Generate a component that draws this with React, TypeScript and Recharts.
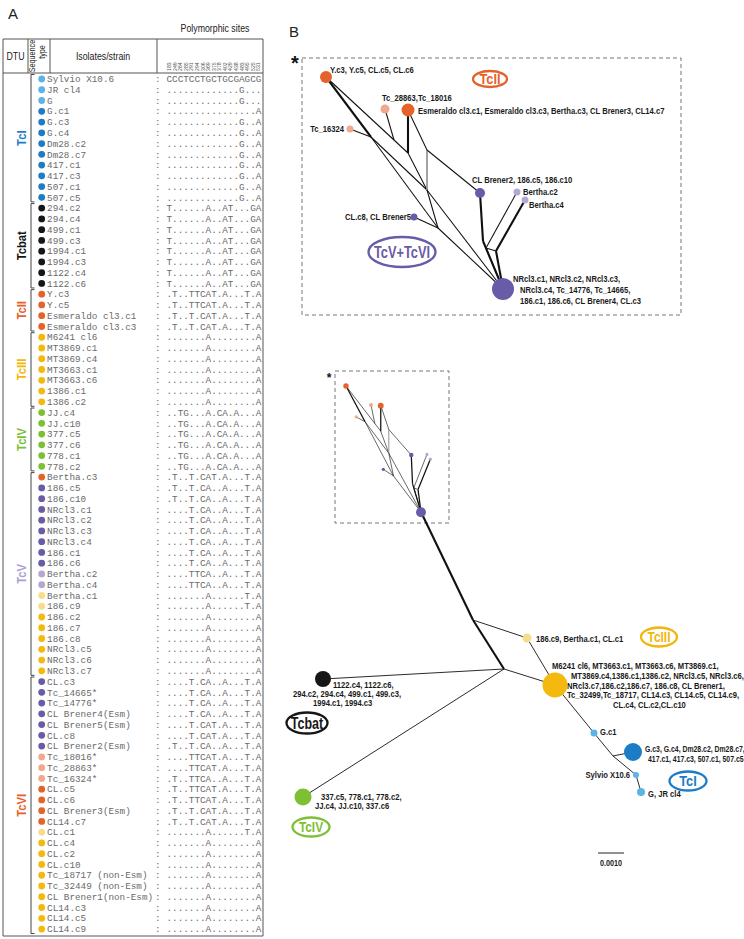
import React from "react";
import { ScatterChart, Scatter, XAxis, YAxis, ReferenceLine, ReferenceArea } from "recharts";

const W = 744;
const H = 939;

// haplotype colours used for dots and nodes
const HAP_COLORS: Record<string, string> = {
  lb: "#5cb3e6",
  b: "#1c7cc5",
  k: "#161616",
  o: "#e5622b",
  y: "#f3b90f",
  g: "#7dc034",
  p: "#685ba7",
  lp: "#b3a7d6",
  ly: "#f6dd8e",
  lo: "#f0a98c",
};

const DTU_COLORS: Record<string, string> = {
  TcI: "#1c7cc5",
  Tcbat: "#161616",
  TcII: "#e5622b",
  TcIII: "#f1b70c",
  TcIV: "#7dc034",
  TcV: "#a89ed2",
  TcVI: "#e5622b",
  "TcV+TcVI": "#685ba7",
};

// polymorphic sites (alignment positions)
const SITES = ["183", "249", "264", "285", "291", "294", "306", "369", "375", "378", "402", "429", "438", "483", "495", "525", "531"];

const SEQ = {
  ref: "CCCTCCTGCTGCGAGCG",
  i1: ".............G...",
  i2: "................A",
  i3: ".............G..A",
  bat: "T......A..AT...GA",
  ii1: ".T..TTCAT.A...T.A",
  ii2: ".T..T.CAT.A...T.A",
  iii: ".......A........A",
  iv: "..TG...A.CA.A...A",
  v1: ".T..T.CA..A...T.A",
  v2: "....T.CA..A...T.A",
  v3: "....TTCA..A...T.A",
  v4: ".......A......T.A",
  vi1: "....T.CAT.A...T.A",
  vi2: "....TTCAT.A...T.A",
  vi3: ".T..TTCA..A...T.A",
};

// [isolate/strain, haplotype colour, sequence]
const ROWS: [string, string, keyof typeof SEQ][] = [
  ["Sylvio X10.6", "lb", "ref"],
  ["JR cl4", "lb", "i1"],
  ["G", "lb", "i1"],
  ["G.c1", "b", "i2"],
  ["G.c3", "b", "i3"],
  ["G.c4", "b", "i3"],
  ["Dm28.c2", "b", "i3"],
  ["Dm28.c7", "b", "i3"],
  ["417.c1", "b", "i3"],
  ["417.c3", "b", "i3"],
  ["507.c1", "b", "i3"],
  ["507.c5", "b", "i3"],
  ["294.c2", "k", "bat"],
  ["294.c4", "k", "bat"],
  ["499.c1", "k", "bat"],
  ["499.c3", "k", "bat"],
  ["1994.c1", "k", "bat"],
  ["1994.c3", "k", "bat"],
  ["1122.c4", "k", "bat"],
  ["1122.c6", "k", "bat"],
  ["Y.c3", "o", "ii1"],
  ["Y.c5", "o", "ii1"],
  ["Esmeraldo cl3.c1", "o", "ii2"],
  ["Esmeraldo cl3.c3", "o", "ii2"],
  ["M6241 cl6", "y", "iii"],
  ["MT3869.c1", "y", "iii"],
  ["MT3869.c4", "y", "iii"],
  ["MT3663.c1", "y", "iii"],
  ["MT3663.c6", "y", "iii"],
  ["1386.c1", "y", "iii"],
  ["1386.c2", "y", "iii"],
  ["JJ.c4", "g", "iv"],
  ["JJ.c10", "g", "iv"],
  ["377.c5", "g", "iv"],
  ["377.c6", "g", "iv"],
  ["778.c1", "g", "iv"],
  ["778.c2", "g", "iv"],
  ["Bertha.c3", "o", "ii2"],
  ["186.c5", "p", "v1"],
  ["186.c10", "p", "v1"],
  ["NRcl3.c1", "p", "v2"],
  ["NRcl3.c2", "p", "v2"],
  ["NRcl3.c3", "p", "v2"],
  ["NRcl3.c4", "p", "v2"],
  ["186.c1", "p", "v2"],
  ["186.c6", "p", "v2"],
  ["Bertha.c2", "lp", "v3"],
  ["Bertha.c4", "lp", "v3"],
  ["Bertha.c1", "ly", "v4"],
  ["186.c9", "ly", "v4"],
  ["186.c2", "y", "iii"],
  ["186.c7", "y", "iii"],
  ["186.c8", "y", "iii"],
  ["NRcl3.c5", "y", "iii"],
  ["NRcl3.c6", "y", "iii"],
  ["NRcl3.c7", "y", "iii"],
  ["CL.c3", "p", "v2"],
  ["Tc_14665*", "p", "v2"],
  ["Tc_14776*", "p", "v2"],
  ["CL Brener4(Esm)", "p", "v2"],
  ["CL Brener5(Esm)", "p", "vi1"],
  ["CL.c8", "p", "vi1"],
  ["CL Brener2(Esm)", "p", "v1"],
  ["Tc_18016*", "lo", "vi2"],
  ["Tc_28863*", "lo", "vi2"],
  ["Tc_16324*", "lo", "vi3"],
  ["CL.c5", "o", "ii1"],
  ["CL.c6", "o", "ii1"],
  ["CL Brener3(Esm)", "o", "ii2"],
  ["CL14.c7", "o", "ii2"],
  ["CL.c1", "ly", "v4"],
  ["CL.c4", "y", "iii"],
  ["CL.c2", "y", "iii"],
  ["CL.c10", "y", "iii"],
  ["Tc_18717 (non-Esm)", "y", "iii"],
  ["Tc_32449 (non-Esm)", "y", "iii"],
  ["CL Brener1(non-Esm)", "y", "iii"],
  ["CL14.c3", "y", "iii"],
  ["CL14.c5", "y", "iii"],
  ["CL14.c9", "y", "iii"],
];

// [DTU, first row, last row]
const DTUS: [string, number, number][] = [
  ["TcI", 0, 11],
  ["Tcbat", 12, 19],
  ["TcII", 20, 23],
  ["TcIII", 24, 30],
  ["TcIV", 31, 36],
  ["TcV", 37, 55],
  ["TcVI", 56, 79],
];

// haplotype network, magnified part (TcII / TcV / TcVI)
const NET_NODES = [
  { id: "YC3", hap: "o", isolates: ["Y.c3, Y.c5, CL.c5, CL.c6"] },
  { id: "T28", hap: "lo", isolates: ["Tc_28863,Tc_18016"] },
  { id: "ESM", hap: "o", isolates: ["Esmeraldo cl3.c1, Esmeraldo cl3.c3, Bertha.c3, CL Brener3, CL14.c7"] },
  { id: "T163", hap: "lo", isolates: ["Tc_16324"] },
  { id: "CLB2", hap: "p", isolates: ["CL Brener2, 186.c5, 186.c10"] },
  { id: "BC2", hap: "lp", isolates: ["Bertha.c2"] },
  { id: "BC4", hap: "lp", isolates: ["Bertha.c4"] },
  { id: "CL8", hap: "p", isolates: ["CL.c8, CL Brener5"] },
  {
    id: "NR",
    hap: "p",
    isolates: ["NRcl3.c1, NRcl3.c2, NRcl3.c3,", "NRcl3.c4, Tc_14776, Tc_14665,", "186.c1, 186.c6, CL Brener4, CL.c3"],
  },
];

const NET_EDGES: [string, string, string][] = [
  ["YC3", "J2", "t"],
  ["YC3", "J3", "n"],
  ["J3", "J4", "n"],
  ["T28", "J3", "n"],
  ["T163", "J2", "n"],
  ["ESM", "J4", "t"],
  ["ESM", "J5", "n"],
  ["J2", "J6", "n"],
  ["J2", "J7", "n"],
  ["J4", "J6", "n"],
  ["J5", "J6", "g"],
  ["J5", "CLB2", "n"],
  ["J6", "J7", "n"],
  ["J6", "NR", "n"],
  ["CL8", "J7", "n"],
  ["J7", "NR", "n"],
  ["CLB2", "J8", "t"],
  ["J8", "NR", "t"],
  ["BC2", "J9", "n"],
  ["BC4", "J10", "t"],
  ["J9", "J10", "n"],
  ["J9", "NR", "n"],
  ["J10", "NR", "t"],
];

// whole network (TcI, TcIII, TcIV, Tcbat)
const MAIN_NODES = [
  { id: "Y9", hap: "ly", isolates: ["186.c9, Bertha.c1, CL.c1"] },
  {
    id: "YEL",
    hap: "y",
    isolates: [
      "M6241 cl6, MT3663.c1, MT3663.c6, MT3869.c1,",
      "MT3869.c4,1386.c1,1386.c2, NRcl3.c5, NRcl3.c6,",
      "NRcl3.c7,186.c2,186.c7, 186.c8, CL Brener1,",
      "Tc_32499,Tc_18717, CL14.c3, CL14.c5, CL14.c9,",
      "CL.c4, CL.c2,CL.c10",
    ],
  },
  { id: "BLK", hap: "k", isolates: ["1122.c4, 1122.c6,", "294.c2, 294.c4, 499.c1, 499.c3,", "1994.c1, 1994.c3"] },
  { id: "GRN", hap: "g", isolates: ["337.c5, 778.c1, 778.c2,", "JJ.c4, JJ.c10, 337.c6"] },
  { id: "GC1", hap: "lb", isolates: ["G.c1"] },
  { id: "GBL", hap: "b", isolates: ["G.c3, G.c4, Dm28.c2, Dm28.c7,", "417.c1, 417.c3, 507.c1, 507.c5"] },
  { id: "SYL", hap: "lb", isolates: ["Sylvio X10.6"] },
  { id: "GJR", hap: "lb", isolates: ["G, JR cl4"] },
];

const MAIN_EDGES: [string, string, string][] = [
  ["ROOT", "JA", "t"],
  ["JA", "JB", "t"],
  ["JA", "Y9", "n"],
  ["Y9", "YEL", "n"],
  ["JB", "YEL", "n"],
  ["JB", "BLK", "n"],
  ["JB", "GRN", "n"],
  ["YEL", "GC1", "n"],
  ["GC1", "JT", "n"],
  ["JT", "GBL", "n"],
  ["JT", "SYL", "n"],
  ["SYL", "GJR", "n"],
];

// ---- layout (drawing units = page pixels) ----
const NET_POS: Record<string, [number, number]> = {
  YC3: [326, 77], T28: [385, 109], ESM: [408, 110], T163: [350, 129], CLB2: [480, 193],
  BC2: [517, 192], BC4: [525, 200], CL8: [414, 217], NR: [503, 289],
  J2: [371, 137], J3: [394, 140], J4: [408, 153], J5: [427, 150], J6: [427, 190],
  J7: [438, 228], J8: [483, 241], J9: [486, 248], J10: [496, 251],
};
const NET_R: Record<string, number> = { YC3: 6, T28: 4.5, ESM: 6.5, T163: 3.5, CLB2: 5, BC2: 3.5, BC4: 3.5, CL8: 3.5, NR: 11 };
const NET_LABEL: Record<string, { a: string; d: [number, number][]; sx?: number }> = {
  YC3: { a: "start", d: [[4, -4]] },
  T28: { a: "start", d: [[-3, -8]] },
  ESM: { a: "start", d: [[10, 3.5]] },
  T163: { a: "end", d: [[-6, 2.5]] },
  CLB2: { a: "start", d: [[-8, -10]] },
  BC2: { a: "start", d: [[6, 3]] },
  BC4: { a: "start", d: [[4, 8]] },
  CL8: { a: "end", d: [[-3, 2.5]] },
  NR: { a: "start", d: [[10, -7], [17, 4], [17, 15]] },
};

const MAIN_POS: Record<string, [number, number]> = {
  ROOT: [421, 512], JA: [473, 620], JB: [504, 669], Y9: [527, 638], YEL: [555, 685],
  BLK: [323, 679], GRN: [303, 797], GC1: [594, 733], JT: [613, 756], GBL: [633, 752],
  SYL: [636, 775], GJR: [641, 792],
};
const MAIN_R: Record<string, number> = { Y9: 4.5, YEL: 12.5, BLK: 8, GRN: 8.5, GC1: 3.5, GBL: 9, SYL: 3, GJR: 4 };
const MAIN_LABEL: Record<string, { a: string; d: [number, number][]; sx?: number }> = {
  Y9: { a: "start", d: [[9, 4]] },
  YEL: { a: "start", d: [[-3, -16], [16, -6], [12, 4], [12, 13], [58, 23]] },
  BLK: { a: "start", d: [[10, 9], [-30, 18], [-10, 27]] },
  GRN: { a: "start", d: [[18, 3], [12, 12]] },
  GC1: { a: "start", d: [[6, 2]] },
  GBL: { a: "start", d: [[12, 0], [15, 10]], sx: 0.74 },
  SYL: { a: "end", d: [[-6, 3]] },
  GJR: { a: "start", d: [[7, 5]] },
};

// [label, cx, cy, width, height, font size, x-squeeze]
const OVALS: [string, number, number, number, number, number, number][] = [
  ["TcII", 490, 79, 34, 16, 15, 0.85],
  ["TcV+TcVI", 402, 252, 67, 30, 16, 0.8],
  ["TcIII", 659, 637, 36, 19, 14, 0.85],
  ["Tcbat", 307, 723, 41, 21, 16, 0.78],
  ["TcIV", 311, 827, 37, 19, 14, 0.85],
  ["TcI", 688, 781, 37, 19, 15, 0.85],
];

const NOTES = [
  { x: 8, y: 19, text: "A", kind: "panel" },
  { x: 289, y: 37, text: "B", kind: "panel" },
  { x: 215, y: 32, text: "Polymorphic sites", kind: "head" },
  { x: 15.5, y: 60, text: "DTU", kind: "head" },
  { x: 103, y: 60, text: "Isolates/strain", kind: "head" },
  { x: 35, y: 56, text: "Sequence", kind: "vhead" },
  { x: 44.5, y: 52, text: "type", kind: "vhead" },
  { x: 295, y: 70, text: "*", kind: "star" },
  { x: 329, y: 382, text: "*", kind: "starS" },
  { x: 611, y: 866, text: "0.0010", kind: "scale" },
];

const ROW0 = 79;
const ROW_H = 10.76;
const DOT_X = 41.7;
const COLON_X = 155;
const SEQ_X = 166.5;
const CH_W = 5.58;
const DTU_X = 26;
const BR_X = 31;

// inset (small dashed box) = magnified network scaled down
const INSET = { net: [326, 77], px: [346, 386], k: [2.36, 1.68], r: 0.45 };
const insetX0 = INSET.net[0] - INSET.px[0] * INSET.k[0];
const insetY0 = INSET.net[1] - INSET.px[1] * INSET.k[1];

const SANS = "'Liberation Sans', Arial, Helvetica, sans-serif";
const MONO: React.CSSProperties = { fontFamily: "'Liberation Mono', 'Courier New', monospace", fontSize: 9.3, fill: "#6a6a6a" };

function Narrow({ x, y, text, size = 9.3, anchor = "start", color = "#1a1a1a", sx = 0.82, weight = 700, rot = 0 }: any) {
  return (
    <text
      transform={`translate(${x},${y}) rotate(${rot}) scale(${sx},1)`}
      fontFamily={SANS}
      fontSize={size}
      fontWeight={weight}
      textAnchor={anchor}
      fill={color}
    >
      {text}
    </text>
  );
}

const noShape = () => <g />;

const renderRow = (p: any) => {
  const { cx, cy, payload } = p;
  return (
    <g>
      <circle cx={cx} cy={cy} r={3.4} fill={HAP_COLORS[payload.hap]} />
      <text x={cx + 5.4} y={cy + 3.2} style={MONO}>{payload.name}</text>
      <text x={COLON_X} y={cy + 3.2} style={MONO}>:</text>
      <text x={SEQ_X} y={cy + 3.2} style={MONO}>{payload.seq}</text>
    </g>
  );
};

const renderDtu = (p: any) => {
  const { cx, cy, payload } = p;
  return <Narrow x={cx} y={cy} text={payload.name} size={12.5} sx={0.9} anchor="middle" rot={-90} color={DTU_COLORS[payload.name]} />;
};

const renderNode = (radii: Record<string, number>, labels: Record<string, { a: string; d: [number, number][]; sx?: number }> | null, scale = 1) => (p: any) => {
  const { cx, cy, payload } = p;
  const lab = labels ? labels[payload.id] : null;
  return (
    <g>
      {lab &&
        payload.isolates.map((t: string, i: number) => (
          <Narrow key={i} x={cx + lab.d[i][0]} y={cy + lab.d[i][1]} text={t} anchor={lab.a} sx={lab.sx ?? 0.82} />
        ))}
      <circle cx={cx} cy={cy} r={Math.max(1.6, radii[payload.id] * scale)} fill={HAP_COLORS[payload.hap]} />
    </g>
  );
};

const renderOval = (p: any) => {
  const { cx, cy, payload } = p;
  const c = DTU_COLORS[payload.name];
  return (
    <g>
      <ellipse cx={cx} cy={cy} rx={payload.w / 2} ry={payload.h / 2} fill="none" stroke={c} strokeWidth={2.3} />
      <Narrow x={cx} y={cy + payload.fs * 0.36} text={payload.name} size={payload.fs} sx={payload.sx} anchor="middle" color={c} />
    </g>
  );
};

const renderNote = (p: any) => {
  const { cx, cy, payload } = p;
  switch (payload.kind) {
    case "panel":
      return <text x={cx} y={cy} fontFamily={SANS} fontSize={15} fill="#222">{payload.text}</text>;
    case "head":
      return <Narrow x={cx} y={cy} text={payload.text} size={11} sx={0.8} weight={400} anchor="middle" color="#222" />;
    case "vhead":
      return <Narrow x={cx} y={cy} text={payload.text} size={9} sx={0.8} weight={400} anchor="middle" rot={-90} color="#222" />;
    case "star":
      return <text x={cx} y={cy} fontFamily={SANS} fontSize={20} fontWeight={700} textAnchor="middle" fill="#111">*</text>;
    case "starS":
      return <text x={cx} y={cy} fontFamily={SANS} fontSize={12} fontWeight={700} textAnchor="middle" fill="#111">*</text>;
    case "scale":
      return <Narrow x={cx} y={cy} text={payload.text} size={8.5} sx={0.85} anchor="middle" color="#222" />;
    default:
      return <g />;
  }
};

const renderSite = (p: any) => {
  const { cx, cy, payload } = p;
  return (
    <text transform={`translate(${cx + 1.8},${cy}) rotate(-90)`} fontFamily={SANS} fontSize={5.2} fill="#555">
      {payload.text}
    </text>
  );
};

function edgeStyle(kind: string, s: number) {
  if (kind === "t") return { stroke: "#111", strokeWidth: 2.1 * s };
  if (kind === "g") return { stroke: "#8c8c8c", strokeWidth: 1.6 * s };
  return { stroke: "#111", strokeWidth: 1.05 * s };
}

export default function App() {
  const rowData = ROWS.map(([name, hap, seq], i) => ({ x: DOT_X, y: i, name, hap, seq: SEQ[seq] }));
  const dtuData = DTUS.map(([name, a, b]) => ({ x: DTU_X, y: (a + b) / 2, name }));
  const siteData = SITES.map((text, k) => ({ x: SEQ_X + (k + 0.5) * CH_W, y: 71, text }));
  const netData = NET_NODES.map((n) => ({ ...n, x: NET_POS[n.id][0], y: NET_POS[n.id][1] }));
  const mainData = MAIN_NODES.map((n) => ({ ...n, x: MAIN_POS[n.id][0], y: MAIN_POS[n.id][1] }));
  const ovalData = OVALS.map(([name, x, y, w, h, fs, sx]) => ({ name, x, y, w, h, fs, sx }));
  const pt = (q: [number, number]) => ({ x: q[0], y: q[1] });

  return (
    <div style={{ position: "absolute", left: 0, top: 0, width: W, height: H, background: "#fff" }}>
      <ScatterChart width={W} height={H} margin={{ top: 0, right: 0, bottom: 0, left: 0 }}>
        <XAxis xAxisId="px" type="number" dataKey="x" domain={[0, W]} hide allowDataOverflow />
        <YAxis yAxisId="px" type="number" dataKey="y" domain={[0, H]} reversed hide allowDataOverflow />
        <XAxis xAxisId="inset" type="number" dataKey="x" domain={[insetX0, insetX0 + W * INSET.k[0]]} hide allowDataOverflow />
        <YAxis yAxisId="inset" type="number" dataKey="y" domain={[insetY0, insetY0 + H * INSET.k[1]]} reversed hide allowDataOverflow />
        <YAxis yAxisId="row" type="number" dataKey="y" domain={[-ROW0 / ROW_H, (H - ROW0) / ROW_H]} reversed hide allowDataOverflow />

        {/* table frame */}
        <ReferenceArea xAxisId="px" yAxisId="px" x1={3} x2={263} y1={39} y2={936} fill="none" stroke="#555" strokeWidth={1} ifOverflow="visible" />
        <ReferenceLine xAxisId="px" yAxisId="px" segment={[{ x: 3, y: 73 }, { x: 263, y: 73 }]} stroke="#555" />
        {[28, 50, 157].map((x) => (
          <ReferenceLine key={x} xAxisId="px" yAxisId="px" segment={[{ x, y: 39 }, { x, y: 73 }]} stroke="#555" />
        ))}
        {DTUS.map(([name, a, b]) => [
          <ReferenceLine key={name + "v"} xAxisId="px" yAxisId="row" segment={[{ x: BR_X, y: a - 0.42 }, { x: BR_X, y: b + 0.42 }]} stroke="#444" />,
          <ReferenceLine key={name + "t"} xAxisId="px" yAxisId="row" segment={[{ x: BR_X, y: a - 0.42 }, { x: BR_X + 3.5, y: a - 0.42 }]} stroke="#444" />,
          <ReferenceLine key={name + "b"} xAxisId="px" yAxisId="row" segment={[{ x: BR_X, y: b + 0.42 }, { x: BR_X + 3.5, y: b + 0.42 }]} stroke="#444" />,
        ])}

        {/* dashed boxes */}
        <ReferenceArea xAxisId="px" yAxisId="px" x1={302} x2={681} y1={58} y2={315} fill="none" stroke="#777" strokeDasharray="4 3" ifOverflow="visible" />
        <ReferenceArea xAxisId="px" yAxisId="px" x1={335} x2={449} y1={371} y2={523} fill="none" stroke="#777" strokeDasharray="4 3" ifOverflow="visible" />

        <Scatter data={rowData} xAxisId="px" yAxisId="row" shape={renderRow} isAnimationActive={false} />
        <Scatter data={dtuData} xAxisId="px" yAxisId="row" shape={renderDtu} isAnimationActive={false} />
        <Scatter data={siteData} xAxisId="px" yAxisId="px" shape={renderSite} isAnimationActive={false} />
        <Scatter data={NOTES} xAxisId="px" yAxisId="px" shape={renderNote} isAnimationActive={false} />

        {/* edges */}
        {NET_EDGES.map(([a, b, k], i) => (
          <Scatter key={"ne" + i} data={[pt(NET_POS[a]), pt(NET_POS[b])]} xAxisId="px" yAxisId="px" line={edgeStyle(k, 1)} shape={noShape} isAnimationActive={false} />
        ))}
        {NET_EDGES.map(([a, b, k], i) => (
          <Scatter key={"ie" + i} data={[pt(NET_POS[a]), pt(NET_POS[b])]} xAxisId="inset" yAxisId="inset" line={edgeStyle(k, 0.6)} shape={noShape} isAnimationActive={false} />
        ))}
        {MAIN_EDGES.map(([a, b, k], i) => (
          <Scatter key={"me" + i} data={[pt(MAIN_POS[a]), pt(MAIN_POS[b])]} xAxisId="px" yAxisId="px" line={edgeStyle(k, k === "t" ? 1 : 0.85)} shape={noShape} isAnimationActive={false} />
        ))}
        <Scatter data={[{ x: 598, y: 853 }, { x: 624, y: 853 }]} xAxisId="px" yAxisId="px" line={{ stroke: "#222", strokeWidth: 1 }} shape={noShape} isAnimationActive={false} />

        {/* nodes */}
        <Scatter data={netData} xAxisId="px" yAxisId="px" shape={renderNode(NET_R, NET_LABEL)} isAnimationActive={false} />
        <Scatter data={netData} xAxisId="inset" yAxisId="inset" shape={renderNode(NET_R, null, INSET.r)} isAnimationActive={false} />
        <Scatter data={mainData} xAxisId="px" yAxisId="px" shape={renderNode(MAIN_R, MAIN_LABEL)} isAnimationActive={false} />
        <Scatter data={ovalData} xAxisId="px" yAxisId="px" shape={renderOval} isAnimationActive={false} />
      </ScatterChart>
    </div>
  );
}
